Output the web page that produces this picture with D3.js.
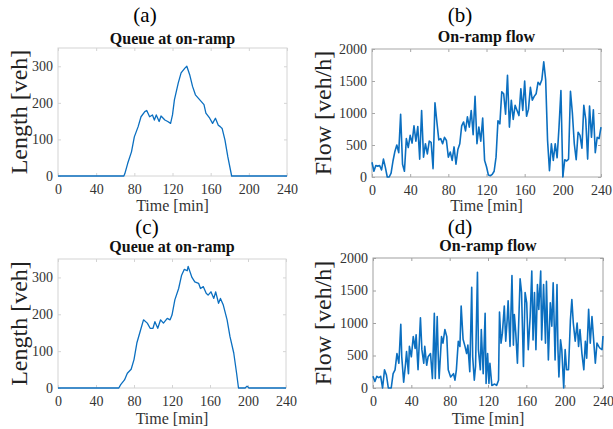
<!DOCTYPE html>
<html>
<head>
<meta charset="utf-8">
<script src="https://cdn.jsdelivr.net/npm/d3@7"></script>
<style>
  body { margin: 0; background: #fff; }
  svg { display: block; font-family: "Liberation Serif", "Times New Roman", serif; }
  .tick text { fill: #333; }
</style>
</head>
<body>
<svg id="chart" width="613" height="429"></svg>
<script>
// time axis shared by every panel
const timeTicks = [0, 40, 80, 120, 160, 200, 240];
const queueTicks = [0, 100, 200, 300];
const flowTicks = [0, 500, 1000, 1500, 2000];

// (a) queue length, veh
const queueATime = [0, 69, 70, 73, 77, 80, 84, 87, 91, 93,
  96, 99, 101, 103, 106, 108, 112, 115, 118, 120,
  122, 126, 129, 133, 135, 138, 141, 144, 147, 150,
  153, 155, 159, 162, 165, 168, 170, 172, 175, 178,
  182, 240];
const queueALen = [0, 0, 6, 34, 66, 107, 135, 162, 176, 179,
  162, 167, 153, 167, 149, 164, 153, 149, 144, 167,
  208, 254, 282, 295, 300, 277, 245, 222, 213, 204,
  195, 172, 158, 144, 158, 139, 135, 130, 98, 52,
  0, 0];

// (b) on-ramp flow, veh/h, every 2 min
const flowBTime = d3.range(0, 241, 2);
const flowBVal = [230, 90, 180, 170, 180, 110, 280, 150, 0, 0,
  60, 250, 400, 500, 380, 980, 200, 90, 600, 460,
  650, 530, 800, 560, 790, 280, 1040, 310, 520, 360,
  560, 540, 130, 1160, 860, 580, 600, 520, 620, 570,
  310, 390, 260, 470, 200, 430, 520, 800, 860, 720,
  940, 780, 1040, 660, 1260, 520, 780, 560, 920, 260,
  160, 30, 20, 40, 90, 310, 880, 830, 1330, 1300,
  980, 1590, 780, 1200, 900, 1120, 1040, 960, 1380, 1040,
  1500, 950, 1060, 1400, 1200, 1260, 1300, 1480, 1440, 1520,
  1800, 1520, 570, 100, 520, 260, 520, 300, 780, 1350,
  0, 270, 250, 280, 1340, 1000, 520, 270, 700, 650,
  450, 1120, 900, 280, 1110, 620, 1050, 380, 620, 600,
  780];

// (c) queue length, veh
const queueCTime = [0, 64, 66, 70, 73, 77, 80, 83, 87, 90,
  94, 97, 100, 102, 105, 108, 111, 115, 118, 120,
  123, 127, 130, 133, 136, 137, 141, 144, 148, 150,
  153, 156, 158, 161, 164, 166, 169, 171, 174, 178,
  181, 185, 188, 190, 197, 199, 201, 240];
const queueCLen = [0, 0, 9, 22, 40, 51, 77, 122, 158, 185,
  176, 162, 162, 180, 162, 185, 176, 189, 185, 198,
  239, 270, 305, 322, 318, 330, 300, 288, 284, 270,
  275, 257, 252, 261, 243, 261, 230, 243, 225, 185,
  140, 95, 40, 0, 0, 5, 0, 0];

// (d) on-ramp flow, veh/h
const flowDTime = [0, 2, 4, 6, 8, 10, 12, 14, 16, 19,
  21, 23, 25, 27, 29, 30, 32, 34, 35, 37,
  38, 40, 42, 44, 45, 47, 49.5, 51, 53, 54,
  56, 57.5, 60, 62, 64, 65, 67, 68, 69, 71.5,
  73, 75, 77, 78.5, 81, 84, 85.5, 87, 89, 90.7,
  92, 94, 96, 97.7, 99, 101, 103, 104, 105.7, 107,
  109, 110, 112, 113, 115, 117, 118, 119.6, 121, 122,
  124, 127, 129, 131, 132, 133.6, 135, 137, 138.5, 140,
  141, 143, 145, 146.5, 147.5, 149, 150.7, 153.5, 155, 157,
  158.7, 160.4, 162, 164, 165.7, 167, 168.5, 170, 171.6, 173,
  175, 176, 178, 180, 181, 183, 185, 186.6, 188, 190,
  192, 193, 194, 195.7, 197, 199, 200.5, 202, 204, 206,
  207.5, 209, 211, 213, 214.5, 216, 218, 220, 221.6, 223,
  225, 226.7, 228.5, 230, 232, 233.7, 235.5, 237, 239, 240];
const flowDVal = [180, 100, 180, 160, 180, 0, 280, 200, 0, 0,
  220, 280, 530, 380, 980, 480, 90, 380, 560, 220,
  640, 480, 790, 610, 820, 280, 1080, 590, 380, 640,
  350, 480, 530, 145, 1150, 145, 1100, 530, 145, 790,
  690, 900, 790, 280, 170, 220, 120, 280, 720, 640,
  1260, 750, 640, 530, 660, 250, 1550, 480, 120, 330,
  1780, 590, 280, 900, 220, 1150, 70, 530, 70, 380,
  40, 60, 40, 120, 1170, 690, 840, 1260, 720, 1050,
  1340, 640, 1730, 660, 1130, 840, 380, 1680, 1470, 330,
  1470, 1310, 590, 1100, 1800, 740, 1470, 590, 1590, 1210,
  1800, 740, 1590, 690, 1640, 430, 1310, 950, 1620, 430,
  1590, 590, 170, 740, 590, 0, 590, 280, 280, 1050,
  1360, 1000, 720, 1000, 640, 900, 530, 280, 720, 460,
  1210, 690, 1100, 790, 380, 690, 640, 610, 590, 800];

const svg = d3.select('#chart');
svg.append('rect').attr('width', 613).attr('height', 429).attr('fill', '#fff');

const panels = [
  { tag: '(a)', tagX: 145, tagY: 22, title: 'Queue at on-ramp', titleY: 44,
    left: 58, right: 287, top: 48, bottom: 176, yMax: 350, yTicks: queueTicks,
    yLabel: 'Length [veh]', yLabelX: 27, xLabelY: 211, box: '#d4d4d4',
    time: queueATime, vals: queueALen, width: 1.3 },
  { tag: '(b)', tagX: 460, tagY: 22, title: 'On-ramp flow', titleY: 42,
    left: 372, right: 601, top: 49, bottom: 177, yMax: 2000, yTicks: flowTicks,
    yLabel: 'Flow [veh/h]', yLabelX: 331, xLabelY: 211, box: '#a8a8a8',
    time: flowBTime, vals: flowBVal, width: 1.6 },
  { tag: '(c)', tagX: 147, tagY: 234, title: 'Queue at on-ramp', titleY: 252,
    left: 58, right: 286, top: 259, bottom: 388, yMax: 350, yTicks: queueTicks,
    yLabel: 'Length [veh]', yLabelX: 27, xLabelY: 424, box: '#d4d4d4',
    time: queueCTime, vals: queueCLen, width: 1.3 },
  { tag: '(d)', tagX: 460, tagY: 234, title: 'On-ramp flow', titleY: 251,
    left: 373, right: 603, top: 258, bottom: 388, yMax: 2000, yTicks: flowTicks,
    yLabel: 'Flow [veh/h]', yLabelX: 331, xLabelY: 424, box: '#a0a0a0',
    time: flowDTime, vals: flowDVal, width: 1.6 }
];

panels.forEach(p => {
  let x = d3.scaleLinear().domain([0, 240]).range([p.left, p.right]);
  let y = d3.scaleLinear().domain([0, p.yMax]).range([p.bottom, p.top]);
  let cx = (p.left + p.right) / 2;

  // box
  svg.append('rect')
    .attr('x', p.left).attr('y', p.top)
    .attr('width', p.right - p.left).attr('height', p.bottom - p.top)
    .attr('fill', 'none').attr('stroke', p.box).attr('stroke-width', 1);

  let xAxis = svg.append('g')
    .attr('transform', 'translate(0,' + p.bottom + ')')
    .call(d3.axisBottom(x).tickValues(timeTicks).tickSize(-3).tickPadding(8).tickFormat(d3.format('d')));
  let xTop = svg.append('g')
    .attr('transform', 'translate(0,' + p.top + ')')
    .call(d3.axisTop(x).tickValues(timeTicks).tickSize(-3).tickFormat(''));
  let yAxis = svg.append('g')
    .attr('transform', 'translate(' + p.left + ',0)')
    .call(d3.axisLeft(y).tickValues(p.yTicks).tickSize(-3).tickPadding(5).tickFormat(d3.format('d')));
  let yRight = svg.append('g')
    .attr('transform', 'translate(' + p.right + ',0)')
    .call(d3.axisRight(y).tickValues(p.yTicks).tickSize(-3).tickFormat(''));

  [xAxis, xTop, yAxis, yRight].forEach(g => {
    g.select('.domain').remove();
    g.selectAll('.tick line').attr('stroke', p.box);
    g.selectAll('.tick text')
      .attr('font-size', 14)
      .attr('font-family', '"Liberation Serif", "Times New Roman", serif');
  });

  let line = d3.line().x((d, i) => x(p.time[i])).y(d => y(d));
  svg.append('path')
    .datum(p.vals)
    .attr('fill', 'none')
    .attr('stroke', '#0b6fc0')
    .attr('stroke-width', p.width)
    .attr('stroke-linejoin', 'round')
    .attr('d', line);

  svg.append('text')
    .attr('x', p.tagX).attr('y', p.tagY)
    .attr('text-anchor', 'middle')
    .attr('font-size', 21)
    .attr('fill', '#000')
    .text(p.tag);

  svg.append('text')
    .attr('x', cx).attr('y', p.titleY)
    .attr('text-anchor', 'middle')
    .attr('font-size', 16)
    .attr('font-weight', 'bold')
    .attr('fill', '#111')
    .text(p.title);

  svg.append('text')
    .attr('x', cx).attr('y', p.xLabelY)
    .attr('text-anchor', 'middle')
    .attr('font-size', 16)
    .attr('fill', '#333')
    .text('Time [min]');

  svg.append('text')
    .attr('transform', 'translate(' + p.yLabelX + ',' + (p.top + p.bottom) / 2 + ') rotate(-90)')
    .attr('text-anchor', 'middle')
    .attr('font-size', 24)
    .attr('fill', '#222')
    .text(p.yLabel);
});
</script>
</body>
</html>
